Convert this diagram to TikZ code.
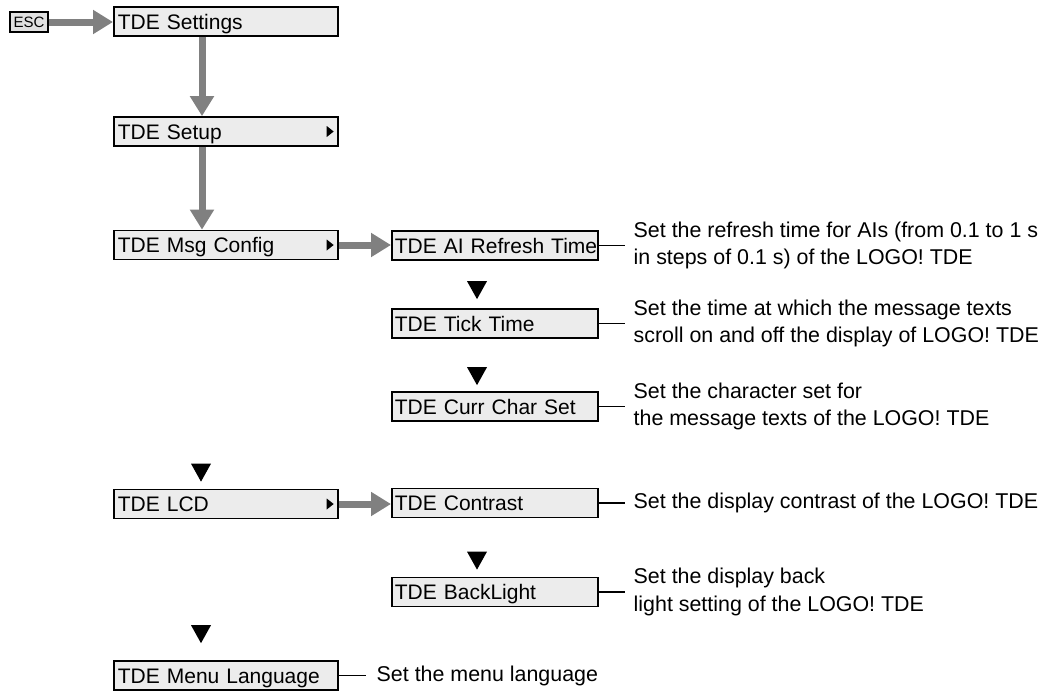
\documentclass[tikz,border=0pt]{standalone}
\usepackage{fontspec}
\setmainfont{Liberation Sans}
\usetikzlibrary{arrows.meta,calc,positioning}
\definecolor{boxgray}{RGB}{236,236,236}
\definecolor{arrowgray}{RGB}{128,128,128}
\tikzset{
    menu/.style={draw, line width=1.7pt, fill=boxgray, anchor=west, minimum height=29pt, inner ysep=0pt, align=left, text height=17pt, text depth=2pt, font=\fontsize{21}{27}\selectfont},
    leftmenu/.style={menu, inner xsep=4pt, text width=216pt},
    rightmenu/.style={menu, inner xsep=3pt, text width=200pt},
    esckey/.style={draw, line width=1.3pt, fill=boxgray!95!black, minimum width=38pt, minimum height=20pt, inner sep=0pt, font=\fontsize{15}{18}\selectfont},
    note/.style={align=left, inner xsep=0pt, outer xsep=9pt, font=\fontsize{21.4}{27.5}\selectfont},
    goto/.style={draw=arrowgray, line width=7pt, -{Triangle[length=20pt,width=23pt]}},
    hint/.style={draw, line width=1.8pt}
}
\newcommand{\downmark}[1]{\fill #1 -- ++(-10,-18) -- ++(20,0) -- cycle;}
\newcommand{\submark}[1]{\fill ($(#1.east)+(-12,5.5)$) -- ++(0,-11) -- ++(7,5.5) -- cycle;}
\begin{document}
\begin{tikzpicture}[x=1pt,y=-1pt]
    \useasboundingbox (0,0) rectangle (1041,691);
    \node[esckey] (esc) at (29,22) {ESC};
    \node[leftmenu] (settings) at (113,21.5) {TDE Settings};
    \node[leftmenu] (setup) at (113,131.5) {TDE Setup};
    \node[leftmenu] (msgcfg) at (113,245) {TDE Msg Config};
    \node[leftmenu] (lcd) at (113,504) {TDE LCD};
    \node[leftmenu] (menulang) at (113,675.5) {TDE Menu Language};
    \node[rightmenu] (refresh) at (391,245.5) {\mbox{TDE AI Refresh Time}};
    \node[rightmenu] (tick) at (391,323.5) {TDE Tick Time};
    \node[rightmenu] (charset) at (391,406.5) {TDE Curr Char Set};
    \node[rightmenu] (contrast) at (391,503) {TDE Contrast};
    \node[rightmenu] (backlight) at (391,592) {TDE BackLight};
    \submark{setup} \submark{msgcfg} \submark{lcd}

    \draw[goto] (esc.east) -- (esc.east -| settings.west);
    \draw[goto] ([xshift=89pt]settings.south west) -- ([xshift=89pt]setup.north west);
    \draw[goto] ([xshift=89pt]setup.south west) -- ([xshift=89pt]msgcfg.north west);
    \draw[goto] (msgcfg.east) -- (msgcfg.east -| refresh.west);
    \draw[goto] (lcd.east) -- (lcd.east -| contrast.west);

    \downmark{([xshift=88pt,yshift=7pt]lcd.north west)}
    \downmark{([xshift=88pt,yshift=17pt]menulang.north west)}
    \downmark{([xshift=86pt,yshift=9pt]tick.north west)}
    \downmark{([xshift=86pt,yshift=6pt]charset.north west)}
    \downmark{([xshift=86pt,yshift=7pt]backlight.north west)}

    \node[note, right=26pt of refresh] (refreshnote) {Set the refresh time for AIs (from 0.1 to 1 s\\in steps of 0.1 s) of the LOGO! TDE};
    \node[note, right=26pt of tick] (ticknote) {Set the time at which the message texts\\scroll on and off the display of LOGO! TDE};
    \node[note, right=26pt of charset] (charsetnote) {Set the character set for\\the message texts of the LOGO! TDE};
    \node[note, right=26pt of contrast] (contrastnote) {Set the display contrast of the LOGO! TDE};
    \node[note, right=26pt of backlight] (backlightnote) {Set the display back\\light setting of the LOGO! TDE};
    \node[note, outer xsep=11pt, right=27pt of menulang] (menulangnote) {Set the menu language};
    \draw[hint] (refresh.east) -- (refreshnote.west);
    \draw[hint] (tick.east) -- (ticknote.west);
    \draw[hint] (charset.east) -- (charsetnote.west);
    \draw[hint] (contrast.east) -- (contrastnote.west);
    \draw[hint] (backlight.east) -- (backlightnote.west);
    \draw[hint] (menulang.east) -- (menulangnote.west);
\end{tikzpicture}
\end{document}
